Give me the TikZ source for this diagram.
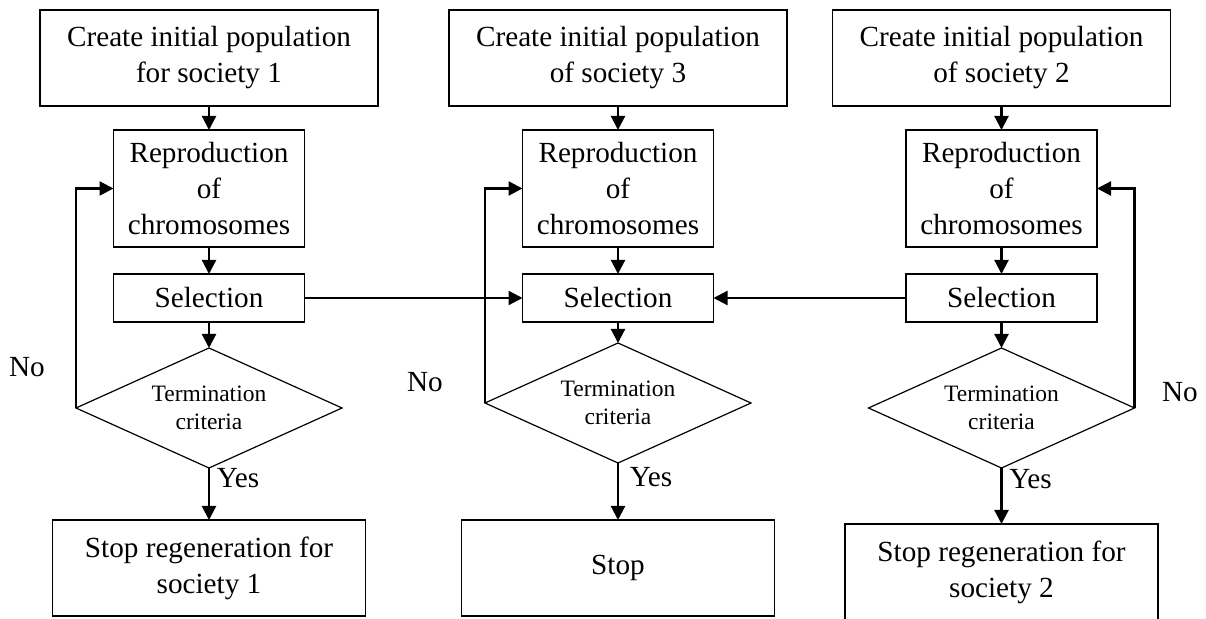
\documentclass[tikz,border=0pt]{standalone}
\usepackage{fontspec}
\setmainfont{Liberation Serif}
\usepackage{tikz}
\usetikzlibrary{shapes.geometric,positioning,arrows.meta}

\begin{document}
\begin{tikzpicture}[x=0.5pt,y=-0.5pt,
      every node/.style={align=center,font=\fontsize{14.6pt}{18pt}\selectfont},
      box/.style={draw, line width=0.6pt, inner sep=0pt, outer sep=0pt},
      initbox/.style={box, minimum width=169pt, minimum height=48pt},
      reprobox/.style={box, minimum width=95.5pt, minimum height=58.5pt},
      selbox/.style={box, minimum width=95.5pt, minimum height=24pt},
      stopbox/.style={box, minimum width=156.5pt, minimum height=48pt},
      test/.style={draw, line width=0.6pt, diamond, aspect=2.2, inner sep=0pt,
        outer sep=0pt, minimum width=133pt, minimum height=60pt,
        font=\fontsize{11.75pt}{14pt}\selectfont},
      conn/.style={line width=1.1pt, -{Triangle[length=7pt,width=7pt]}}]
    \clip (0,0) rectangle (1206,619);
    \node[initbox] (i1) at (209,58) {Create initial population\\for society 1};
    \node[reprobox,below=12pt of i1] (r1) {Reproduction\\of\\chromosomes};
    \node[selbox,below=13.5pt of r1] (s1) {Selection};
    \node[test,below=13pt of s1] (t1) {Termination\\criteria};
    \node[stopbox,below=26pt of t1] (e1) {Stop regeneration for\\society 1};
    \node[initbox] (i2) at (618,58) {Create initial population\\of society 3};
    \node[reprobox,below=12pt of i2] (r2) {Reproduction\\of\\chromosomes};
    \node[selbox,below=13.5pt of r2] (s2) {Selection};
    \node[test,below=10.5pt of s2] (t2) {Termination\\criteria};
    \node[stopbox,below=28.5pt of t2] (e2) {Stop};
    \node[initbox] (i3) at (1001.5,58) {Create initial population\\of society 2};
    \node[reprobox,below=12pt of i3] (r3) {Reproduction\\of\\chromosomes};
    \node[selbox,below=13.5pt of r3] (s3) {Selection};
    \node[test,below=13pt of s3] (t3) {Termination\\criteria};
    \node[stopbox,below=28pt of t3] (e3) {Stop regeneration for\\society 2};
    \node (n1) at (27,367) {No};
    \node (n2) at (425,382) {No};
    \node (n3) at (1180,392) {No};
    \foreach \c in {1,2,3}{
      \draw[conn] (i\c) -- (r\c);
      \draw[conn] (r\c) -- (s\c);
      \draw[conn] (s\c) -- (t\c);
    }
    \draw[conn] (t1) -- node[pos=0.19,right] {Yes} (e1);
    \draw[conn] (t2) -- node[pos=0.25,right=2pt] {Yes} (e2);
    \draw[conn] (t3) -- node[pos=0.2,right] {Yes} (e3);
    \draw[conn] (t1.west) |- (r1.west);
    \draw[conn] (t2.west) |- (r2.west);
    \draw[conn] (t3.east) |- (r3.east);
    \draw[conn] (s1) -- (s2);
    \draw[conn] (s3) -- (s2);
\end{tikzpicture}
\end{document}
